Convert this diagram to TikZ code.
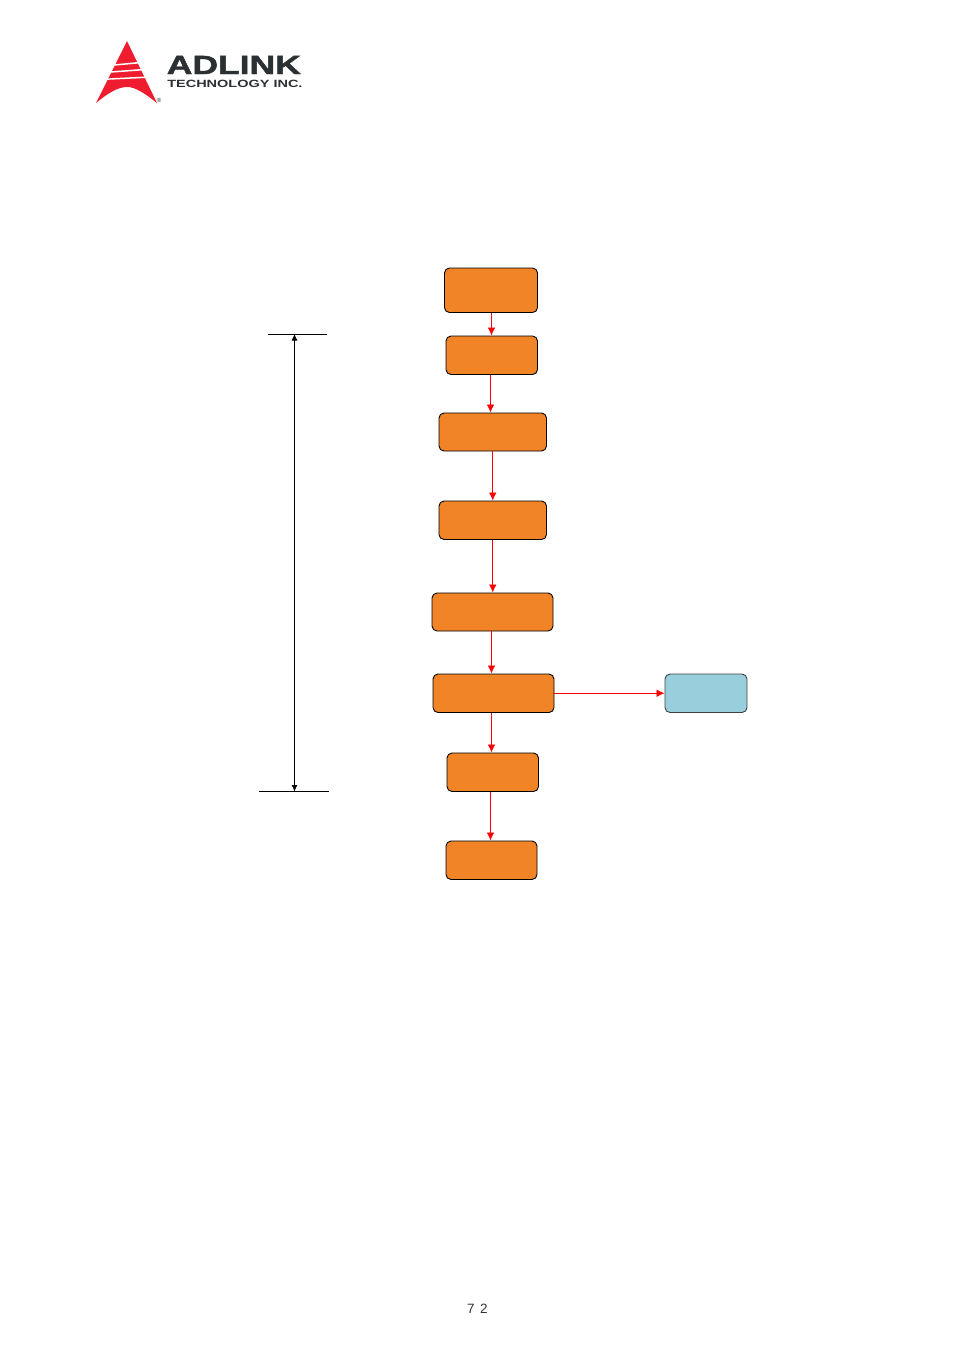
\documentclass[tikz,border=0pt]{standalone}
\usepackage{fontspec}
\setmainfont{Liberation Sans}
\newfontfamily\logofont[BoldFeatures={FakeBold=1.5}]{Liberation Sans}
\usetikzlibrary{arrows.meta}

\definecolor{BoxOrange}{HTML}{F28428}
\definecolor{BoxBlue}{HTML}{99CFDD}
\definecolor{LogoRed}{HTML}{EE1C2E}
\definecolor{LogoGray}{HTML}{2B3033}

\tikzset{
    StepBox/.style = {draw, line width=0.9pt, fill=BoxOrange, rounded corners=5pt, inner sep=0pt},
    SideBox/.style = {StepBox, fill=BoxBlue, draw=black!75},
    FlowEdge/.style = {draw=red, line width=0.8pt, -{Latex[length=8pt,width=7.5pt]}},
    SpanEdge/.style = {line width=0.8pt, {Latex[length=6.5pt,width=6pt]}-{Latex[length=6.5pt,width=6pt]}},
    TickEdge/.style = {line width=0.8pt}
}

\begin{document}
\begin{tikzpicture}[x=1pt, y=-1pt]
    \useasboundingbox (0,0) rectangle (954,1350);

    % logo
    \fill[LogoRed] (127,41) -- (157,103) .. controls (143,92) and (135,87) .. (127,87)
        .. controls (118,87) and (108,93) .. (96,103) -- cycle;
    \fill[white] (112,64.5) -- (138,62) -- (139,63.5) -- (111,66) -- cycle;
    \fill[white] (108,71.5) -- (141,69) -- (142,70.5) -- (107,73) -- cycle;
    \fill[white] (105,78.5) -- (145,76.5) -- (146,78) -- (104,80) -- cycle;
    \node[anchor=base west, inner sep=0pt, xscale=1.42, yscale=1.05, text=LogoGray, font=\fontsize{25}{25}\logofont\bfseries] (LogoName) at (166.5,74) {ADLINK};
    \node[anchor=base west, inner sep=0pt, xscale=1.38, text=LogoGray, font=\fontsize{10.5}{10.5}\selectfont\bfseries] (LogoSub) at (167,87) {TECHNOLOGY INC.};
    \node[inner sep=0pt, text=LogoGray, font=\fontsize{6}{6}\selectfont] (LogoMark) at (159,100) {®};

    % boxes
    \node[StepBox, minimum width=93pt, minimum height=44.5pt] (A) at (491,290.25) {};
    \node[StepBox, minimum width=91.5pt, minimum height=38.5pt] (B) at (491.75,355.25) {};
    \node[StepBox, minimum width=107.5pt, minimum height=38pt] (C) at (492.75,432) {};
    \node[StepBox, minimum width=107.5pt, minimum height=38.5pt] (D) at (492.75,520.25) {};
    \node[StepBox, minimum width=121pt, minimum height=38pt] (E) at (492.5,612) {};
    \node[StepBox, minimum width=121pt, minimum height=38.5pt] (F) at (493.5,693.25) {};
    \node[StepBox, minimum width=91.5pt, minimum height=38.5pt] (G) at (492.75,772.25) {};
    \node[StepBox, minimum width=91pt, minimum height=38.5pt] (H) at (491.5,860.25) {};
    \node[SideBox, minimum width=82pt, minimum height=38.5pt] (I) at (706,693.25) {};

    % flow
    \draw[FlowEdge] ([xshift=0.5pt]A.south) -- ([xshift=0.5pt]A.south |- B.north);
    \draw[FlowEdge] ([xshift=-1.25pt]B.south) -- ([xshift=-1.25pt]B.south |- C.north);
    \draw[FlowEdge] (C.south) -- (C.south |- D.north);
    \draw[FlowEdge] (D.south) -- (D.south |- E.north);
    \draw[FlowEdge] ([xshift=-1pt]E.south) -- ([xshift=-1pt]E.south |- F.north);
    \draw[FlowEdge] ([xshift=-2pt]F.south) -- ([xshift=-2pt]F.south |- G.north);
    \draw[FlowEdge] ([xshift=-2.25pt]G.south) -- ([xshift=-2.25pt]G.south |- H.north);
    \draw[FlowEdge] (F.east) -- (I.west);

    % span on the left
    \coordinate (TopL) at (268,334);
    \coordinate (TopR) at (327,334);
    \coordinate (BotL) at (259,791.5);
    \coordinate (BotR) at (329,791.5);
    \coordinate (SpanTop) at (294.5,334);
    \coordinate (SpanBot) at (294.5,791.5);
    \draw[TickEdge] (TopL) -- (TopR);
    \draw[TickEdge] (BotL) -- (BotR);
    \draw[SpanEdge] (SpanTop) -- (SpanBot);

    % page number
    \node[inner sep=0pt, text=black!80, font=\fontsize{13.5}{13.5}\selectfont] (PageNo) at (477.5,1308.5) {7\hspace{5.5pt}2};
\end{tikzpicture}
\end{document}
